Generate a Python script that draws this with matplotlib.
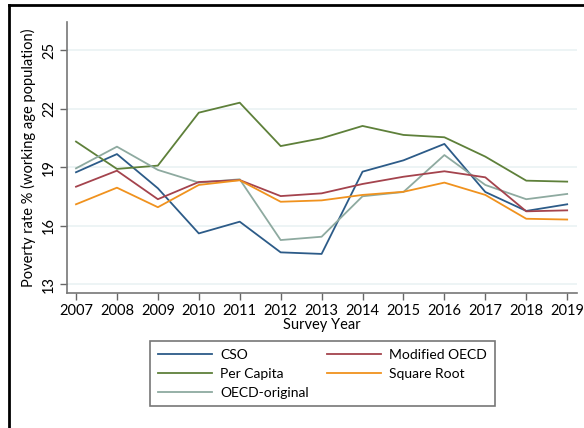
import matplotlib
matplotlib.use("Agg")
import matplotlib.pyplot as plt
from matplotlib.lines import Line2D

plt.rcParams['font.family'] = ['Lato', 'DejaVu Sans']

years = [2007, 2008, 2009, 2010, 2011, 2012, 2013, 2014, 2015, 2016, 2017, 2018, 2019]
cso = [18.74, 19.67, 17.92, 15.61, 16.21, 14.64, 14.56, 18.77, 19.35, 20.19, 17.73, 16.76, 17.10]
per_capita = [20.31, 18.91, 19.08, 21.79, 22.30, 20.08, 20.48, 21.11, 20.65, 20.53, 19.54, 18.31, 18.26]
modified_oecd = [18.00, 18.82, 17.36, 18.24, 18.34, 17.52, 17.66, 18.14, 18.51, 18.79, 18.48, 16.74, 16.79]
square_root = [17.10, 17.95, 16.95, 18.09, 18.33, 17.23, 17.30, 17.58, 17.74, 18.21, 17.58, 16.36, 16.32]
oecd_original = [18.94, 20.05, 18.86, 18.21, 18.38, 15.27, 15.44, 17.51, 17.73, 19.62, 18.09, 17.36, 17.63]
yticks = [13, 16, 19, 22, 25]

W, H = 584, 428
fig = plt.figure(figsize=(W / 100, H / 100), dpi=100)
ax = fig.add_axes([67 / W, 1 - 293 / H, (577 - 67) / W, (293 - 22) / H])

series = [
    ("CSO", cso, "#2c5b88"),
    ("Per Capita", per_capita, "#5e803a"),
    ("OECD-original", oecd_original, "#8eaaa0"),
    ("Modified OECD", modified_oecd, "#a4434d"),
    ("Square Root", square_root, "#f0921e"),
]
handles = []
for name, vals, col in series:
    h, = ax.plot(years, vals, color=col, lw=1.3, label=name)
    handles.append(h)

ax.set_xlim(2006.78, 2019.24)
ax.set_ylim(12.56, 26.43)
ax.set_xticks(years)
ax.set_yticks(yticks)
ax.set_yticklabels([str(t) for t in yticks], rotation=90, va='center')
ax.tick_params(axis='both', labelsize=10.5, color='#666666', length=5, width=1, direction='out')
ax.tick_params(axis='y', pad=3)
ax.tick_params(axis='x', pad=3)
for t in yticks:
    ax.axhline(t, color='#eaf2f3', lw=1.2, zorder=0)
for s in ['top', 'right']:
    ax.spines[s].set_visible(False)
for s in ['left', 'bottom']:
    ax.spines[s].set_color('#777777')
    ax.spines[s].set_linewidth(1.2)

ax.set_xlabel("Survey Year", fontsize=10.5, labelpad=0)
ax.set_ylabel("Poverty rate % (working age population)", fontsize=10.5, labelpad=4)

leg = fig.legend(handles=handles, loc='upper left', bbox_to_anchor=(150 / W, 1 - 341 / H),
                 ncol=2, fontsize=10, frameon=True, fancybox=False,
                 handlelength=3.9, handletextpad=0.6, columnspacing=1.3,
                 borderpad=0.55, labelspacing=0.5, borderaxespad=0)
leg.get_frame().set_edgecolor('#555555')
leg.get_frame().set_linewidth(1.2)

fig.add_artist(Line2D([8.5 / W, 8.5 / W], [0, 1 - 5 / H], color='black', lw=2, transform=fig.transFigure))
fig.add_artist(Line2D([8.5 / W, 1], [1 - 5 / H, 1 - 5 / H], color='black', lw=2, transform=fig.transFigure))

fig.savefig("out.png", dpi=100)
